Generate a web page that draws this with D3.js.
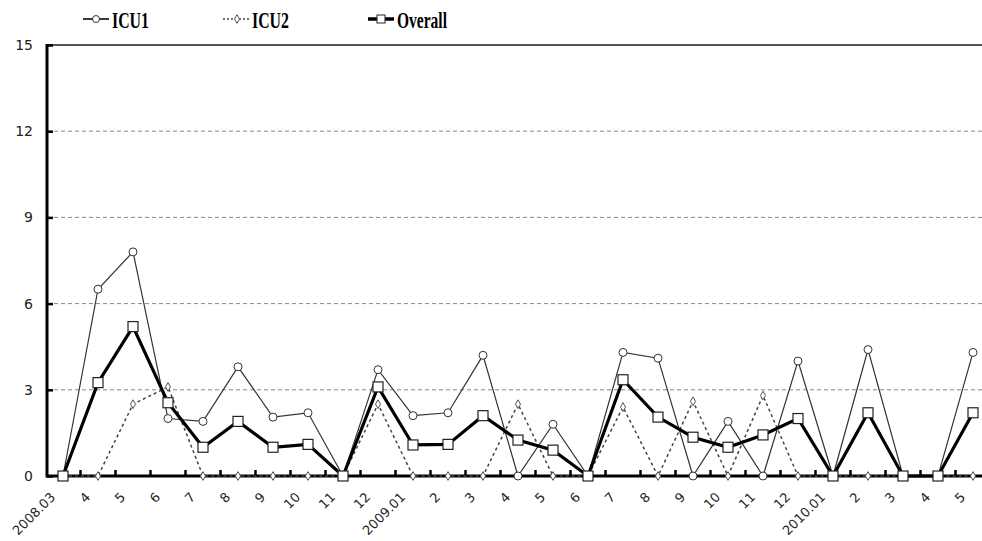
<!DOCTYPE html>
<html>
<head>
<meta charset="utf-8">
<script src="https://cdn.jsdelivr.net/npm/d3@7"></script>
<style>
  body { margin: 0; background: #fff; }
  svg { display: block; }
</style>
</head>
<body>
<div id="chart"></div>
<script>
// month labels along the bottom
var months = ["2008.03", "4", "5", "6", "7", "8", "9", "10", "11", "12",
    "2009.01", "2", "3", "4", "5", "6", "7", "8", "9", "10", "11", "12",
    "2010.01", "2", "3", "4", "5"];

var icu1 = [0, 6.5, 7.8, 2.0, 1.9, 3.8, 2.05, 2.2, 0, 3.7,
    2.1, 2.2, 4.2, 0, 1.8, 0, 4.3, 4.1, 0, 1.9, 0, 4.0,
    0, 4.4, 0, 0, 4.3];

var icu2 = [0, 0, 2.5, 3.1, 0, 0, 0, 0, 0, 2.5,
    0, 0, 0, 2.5, 0, 0, 2.4, 0, 2.6, 0, 2.8, 0,
    0, 0, 0, 0, 0];

var overall = [0, 3.25, 5.2, 2.55, 1.0, 1.9, 1.0, 1.1, 0, 3.1,
    1.08, 1.1, 2.1, 1.25, 0.9, 0, 3.35, 2.05, 1.35, 1.0, 1.43, 2.0,
    0, 2.2, 0, 0, 2.2];

var yTicks = [0, 3, 6, 9, 12, 15];

var width = 982, height = 541;
var plotLeft = 47, plotTop = 45, plotBottom = 476;

var svg = d3.select("#chart").append("svg")
    .attr("width", width)
    .attr("height", height);

var idx = d3.range(months.length);

var x = d3.scalePoint()
    .domain(idx)
    .range([63, 973]);

var step = x.step();

var y = d3.scaleLinear()
    .domain([0, 15])
    .range([plotBottom, plotTop]);

// dashed grid lines
svg.append("g")
    .selectAll("line")
    .data(yTicks.filter(function (d) { return d > 0 && d < 15; }))
    .enter().append("line")
    .attr("x1", plotLeft)
    .attr("x2", width)
    .attr("y1", function (d) { return y(d); })
    .attr("y2", function (d) { return y(d); })
    .attr("stroke", "#888")
    .attr("stroke-width", 1)
    .attr("stroke-dasharray", "4,3");

// top border
svg.append("line")
    .attr("x1", plotLeft).attr("x2", width)
    .attr("y1", y(15)).attr("y2", y(15))
    .attr("stroke", "#555")
    .attr("stroke-width", 2);

// y axis
var yAxis = d3.axisLeft(y)
    .tickValues(yTicks)
    .tickSize(-6)
    .tickPadding(14)
    .tickFormat(d3.format("d"));

var gy = svg.append("g")
    .attr("transform", "translate(" + plotLeft + ",0)")
    .call(yAxis);
gy.select(".domain").remove();
gy.selectAll(".tick line").attr("stroke", "#000").attr("stroke-width", 2.5);
gy.selectAll(".tick text")
    .attr("font-family", "DejaVu Sans")
    .attr("font-size", 14)
    .attr("fill", "#222");

svg.append("line")
    .attr("x1", plotLeft).attr("x2", plotLeft)
    .attr("y1", y(15) - 1).attr("y2", plotBottom + 1.5)
    .attr("stroke", "#000")
    .attr("stroke-width", 3);

// x axis with ticks between the months
var xTickPos = d3.range(months.length).map(function (i) { return x(i) + step / 2; });

svg.append("g")
    .selectAll("line")
    .data(xTickPos)
    .enter().append("line")
    .attr("x1", function (d) { return d; })
    .attr("x2", function (d) { return d; })
    .attr("y1", plotBottom)
    .attr("y2", plotBottom - 6)
    .attr("stroke", "#000")
    .attr("stroke-width", 2.5);

svg.append("line")
    .attr("x1", plotLeft).attr("x2", width)
    .attr("y1", plotBottom).attr("y2", plotBottom)
    .attr("stroke", "#000")
    .attr("stroke-width", 3);

svg.append("g")
    .selectAll("text")
    .data(months)
    .enter().append("text")
    .attr("transform", function (d, i) {
        return "translate(" + (x(i) - 7) + "," + (plotBottom + 22) + ") rotate(-45)";
    })
    .attr("text-anchor", "end")
    .attr("font-family", "DejaVu Sans")
    .attr("font-size", 13)
    .attr("fill", "#222")
    .text(function (d) { return d; });

// lines
var line = d3.line()
    .x(function (d, i) { return x(i); })
    .y(function (d) { return y(d); });

svg.append("path")
    .datum(icu2)
    .attr("d", line)
    .attr("fill", "none")
    .attr("stroke", "#444")
    .attr("stroke-width", 1.5)
    .attr("stroke-dasharray", "3,3");

svg.append("path")
    .datum(icu1)
    .attr("d", line)
    .attr("fill", "none")
    .attr("stroke", "#333")
    .attr("stroke-width", 1.2);

svg.append("path")
    .datum(overall)
    .attr("d", line)
    .attr("fill", "none")
    .attr("stroke", "#000")
    .attr("stroke-width", 3.2);

// markers
var diamond = d3.symbol().type(d3.symbolDiamond).size(22);

svg.append("g")
    .selectAll("path")
    .data(icu2)
    .enter().append("path")
    .attr("d", diamond)
    .attr("transform", function (d, i) { return "translate(" + x(i) + "," + y(d) + ")"; })
    .attr("fill", "#fff")
    .attr("stroke", "#555")
    .attr("stroke-width", 1);

svg.append("g")
    .selectAll("circle")
    .data(icu1)
    .enter().append("circle")
    .attr("cx", function (d, i) { return x(i); })
    .attr("cy", function (d) { return y(d); })
    .attr("r", 4)
    .attr("fill", "#fff")
    .attr("stroke", "#333")
    .attr("stroke-width", 1);

svg.append("g")
    .selectAll("rect")
    .data(overall)
    .enter().append("rect")
    .attr("x", function (d, i) { return x(i) - 5; })
    .attr("y", function (d) { return y(d) - 5; })
    .attr("width", 10)
    .attr("height", 10)
    .attr("fill", "#fff")
    .attr("stroke", "#222")
    .attr("stroke-width", 1.2);

// legend
var legend = [
    { name: "ICU1", x: 83, w: 37 },
    { name: "ICU2", x: 223, w: 37 },
    { name: "Overall", x: 368, w: 50 }
];
var ly = 19;

var lg = svg.append("g");

lg.append("line")
    .attr("x1", 83).attr("x2", 109).attr("y1", ly).attr("y2", ly)
    .attr("stroke", "#222").attr("stroke-width", 1.8);
lg.append("circle")
    .attr("cx", 96).attr("cy", ly).attr("r", 3.5)
    .attr("fill", "#fff").attr("stroke", "#333");

lg.append("line")
    .attr("x1", 223).attr("x2", 250).attr("y1", ly).attr("y2", ly)
    .attr("stroke", "#444").attr("stroke-width", 1.5)
    .attr("stroke-dasharray", "2,2");
lg.append("path")
    .attr("d", diamond)
    .attr("transform", "translate(237," + ly + ")")
    .attr("fill", "#fff").attr("stroke", "#555");

lg.append("line")
    .attr("x1", 368).attr("x2", 394).attr("y1", ly).attr("y2", ly)
    .attr("stroke", "#000").attr("stroke-width", 3.5);
lg.append("rect")
    .attr("x", 377).attr("y", ly - 4).attr("width", 8).attr("height", 8)
    .attr("fill", "#fff").attr("stroke", "#222");

lg.selectAll("text")
    .data(legend)
    .enter().append("text")
    .attr("x", function (d) { return d.x + 29; })
    .attr("y", 28)
    .attr("font-family", "Liberation Serif")
    .attr("font-weight", "bold")
    .attr("font-size", 24)
    .attr("textLength", function (d) { return d.w; })
    .attr("lengthAdjust", "spacingAndGlyphs")
    .attr("fill", "#000")
    .text(function (d) { return d.name; });
</script>
</body>
</html>
